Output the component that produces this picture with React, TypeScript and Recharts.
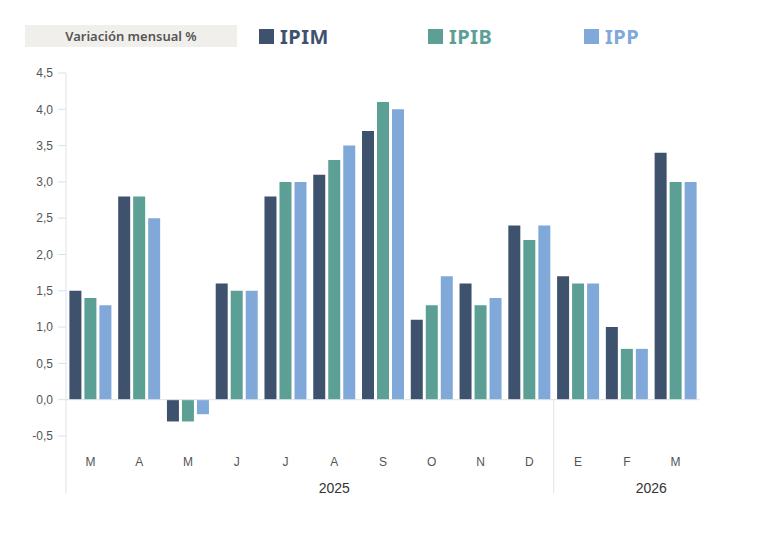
import { BarChart, Bar, XAxis, YAxis, ReferenceLine } from "recharts";

const keys = ["2503", "2504", "2505", "2506", "2507", "2508", "2509", "2510", "2511", "2512", "2601", "2602", "2603"];
const months = ["M", "A", "M", "J", "J", "A", "S", "O", "N", "D", "E", "F", "M"];
const ipim = [1.5, 2.8, -0.3, 1.6, 2.8, 3.1, 3.7, 1.1, 1.6, 2.4, 1.7, 1.0, 3.4];
const ipib = [1.4, 2.8, -0.3, 1.5, 3.0, 3.3, 4.1, 1.3, 1.3, 2.2, 1.6, 0.7, 3.0];
const ipp = [1.3, 2.5, -0.2, 1.5, 3.0, 3.5, 4.0, 1.7, 1.4, 2.4, 1.6, 0.7, 3.0];
const yTicks = [-0.5, 0, 0.5, 1, 1.5, 2, 2.5, 3, 3.5, 4, 4.5];
// year label position in category units (5 = centre of "A", 11.5 = between "F" and "M")
const yearLabels = [
  { pos: 5, label: "2025" },
  { pos: 11.5, label: "2026" },
];

const series = [
  { key: "IPIM", color: "#3f526d" },
  { key: "IPIB", color: "#5b9f95" },
  { key: "IPP", color: "#80a9d9" },
];

const data = keys.map((k, i) => ({
  key: k,
  month: months[i],
  IPIM: ipim[i],
  IPIB: ipib[i],
  IPP: ipp[i],
}));

const axisFont = "'Liberation Sans', Arial, sans-serif";
const BOTTOM = -1.285;
const BAND = (700 - 66) / keys.length;

const MonthTick = ({ x, y, payload }: any) => (
  <text x={x} y={y} dy={22} textAnchor="middle" fontSize={12} fill="#555" fontFamily={axisFont}>
    {months[payload.index]}
  </text>
);

const YearTick = ({ x, y, payload }: any) => {
  const item = yearLabels.find((d) => Math.floor(d.pos) === payload.index);
  if (!item) return null;
  return (
    <text
      x={x + (item.pos - payload.index) * BAND}
      y={y}
      dy={9}
      textAnchor="middle"
      fontSize={14}
      fill="#333"
      fontFamily={axisFont}
    >
      {item.label}
    </text>
  );
};

const lefts = [259, 428, 584];

function Header() {
  return (
    <div style={{ position: "absolute", top: 25, left: 0, width: 760, height: 26 }}>
      <div
        style={{
          position: "absolute",
          left: 25,
          top: 0,
          width: 212,
          height: 22,
          background: "#f1efec",
          color: "#555",
          fontFamily: "'Noto Sans', sans-serif",
          fontSize: 13,
          fontWeight: 600,
          lineHeight: "22px",
          textAlign: "center",
        }}
      >
        Variación mensual %
      </div>
      {series.map((s, i) => (
        <div
          key={s.key}
          style={{
            position: "absolute",
            left: lefts[i],
            top: -2,
            display: "flex",
            alignItems: "center",
            height: 26,
          }}
        >
          <span style={{ display: "inline-block", width: 15, height: 15, background: s.color, marginRight: 6 }} />
          <span
            style={{
              color: s.color,
              fontFamily: "'Noto Sans', sans-serif",
              fontWeight: 700,
              fontSize: 20,
              letterSpacing: 0.5,
            }}
          >
            {s.key}
          </span>
        </div>
      ))}
    </div>
  );
}

export default function App() {
  return (
    <div style={{ position: "absolute", left: 0, top: 0, width: 760, height: 537, background: "#fff" }}>
      <BarChart
        width={760}
        height={537}
        data={data}
        margin={{ top: 73, right: 60, left: 0, bottom: 31 }}
        barCategoryGap={3.4}
        barGap={3}
      >
        <XAxis dataKey="key" xAxisId="m" axisLine={false} tickLine={false} height={40} tick={<MonthTick />} interval={0} />
        <XAxis dataKey="key" xAxisId="y" axisLine={false} tickLine={false} height={30} tick={<YearTick />} interval={0} />
        <YAxis
          width={66}
          domain={[-0.5, 4.5]}
          ticks={yTicks}
          interval={0}
          axisLine={false}
          tickLine={{ stroke: "#d9e2e8" }}
          tickSize={8}
          tickMargin={5}
          tick={{ fontSize: 12, fill: "#555", fontFamily: axisFont }}
          tickFormatter={(v: number) => v.toFixed(1).replace(".", ",")}
        />
        <ReferenceLine xAxisId="m" y={0} stroke="#dde3e7" strokeWidth={1} />
        <ReferenceLine
          xAxisId="m"
          position="start"
          segment={[
            { x: keys[0], y: 4.5 },
            { x: keys[0], y: BOTTOM },
          ]}
          ifOverflow="visible"
          stroke="#d9e4ec"
        />
        <ReferenceLine
          xAxisId="m"
          position="start"
          segment={[
            { x: keys[10], y: 0 },
            { x: keys[10], y: BOTTOM },
          ]}
          ifOverflow="visible"
          stroke="#dde3e7"
        />
        {series.map((s) => (
          <Bar key={s.key} xAxisId="m" dataKey={s.key} name={s.key} fill={s.color} isAnimationActive={false} />
        ))}
      </BarChart>
      <Header />
    </div>
  );
}
